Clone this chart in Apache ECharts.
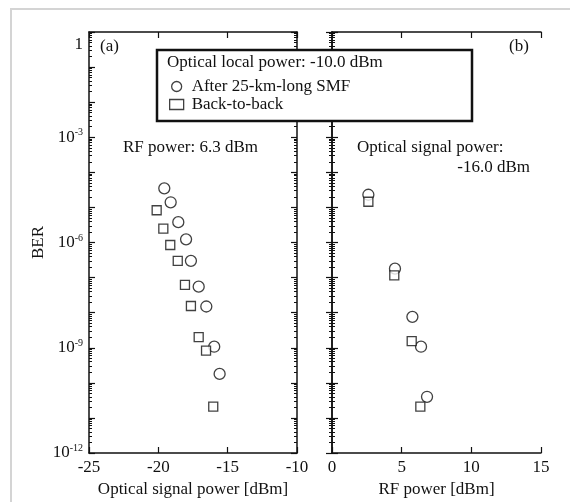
<!DOCTYPE html>
<html>
<head>
<meta charset="utf-8">
<script src="https://cdn.jsdelivr.net/npm/echarts@6/dist/echarts.min.js"></script>
<style>
  html, body { margin: 0; padding: 0; background: #fff; }
  #frame { position: absolute; left: 10px; top: 8px; width: 560px; height: 494px;
           border-left: 2px solid #d4d4d4; border-top: 2px solid #d4d4d4; }
  #chart { position: absolute; left: 0; top: 0; width: 570px; height: 502px; }
</style>
</head>
<body>
<div id="frame"></div>
<div id="chart"></div>
<script>
// (a) BER vs optical signal power, RF power 6.3 dBm
const smfPowerA = [-19.57, -19.11, -18.56, -18.0, -17.65, -17.09, -16.54, -15.97, -15.58];
const smfBerA   = [3.5e-5, 1.4e-5, 3.8e-6, 1.23e-6, 3.0e-7, 5.5e-8, 1.5e-8, 1.07e-9, 1.8e-10];
const b2bPowerA = [-20.12, -19.64, -19.14, -18.6, -18.08, -17.65, -17.09, -16.56, -16.04];
const b2bBerA   = [8.3e-6, 2.5e-6, 8.5e-7, 3.0e-7, 6.2e-8, 1.55e-8, 2.0e-9, 8.3e-10, 2.1e-11];
// (b) BER vs RF power, optical signal power -16.0 dBm
const smfPowerB = [2.61, 4.52, 5.77, 6.39, 6.82];
const smfBerB   = [2.3e-5, 1.8e-7, 7.6e-9, 1.07e-9, 4.0e-11];
const b2bPowerB = [2.61, 4.47, 5.72, 6.34];
const b2bBerB   = [1.45e-5, 1.15e-7, 1.55e-9, 2.1e-11];

const xTicksA = [-25, -20, -15, -10];
const xTicksB = [0, 5, 10, 15];
const berLabelExp = [0, -3, -6, -9, -12];

const seriesNames = ['After 25-km-long SMF', 'Back-to-back'];

const FONT = 'Liberation Serif';
const FS = 17;
const TXT = FS + 'px "Liberation Serif"';
const chart = echarts.init(document.getElementById('chart'));

const pairs = (xs, ys) => xs.map((x, i) => [x, ys[i]]);

function yLabel(v) {
  const e = Math.round(Math.log10(v));
  if (berLabelExp.indexOf(e) < 0) return '';
  if (e === 0) return '{one|1}';
  return '{n|10}{s|' + e + '}';
}

const yRich = {
  n: { fontFamily: FONT, fontSize: FS, color: '#111' },
  one: { fontFamily: FONT, fontSize: FS, color: '#111', padding: [26, 0, 0, 0] },
  s: { fontFamily: FONT, fontSize: 10, color: '#111', verticalAlign: 'top', padding: [0, 0, 9, 0] }
};

function yAxis(gridIndex, position, labels) {
  return {
    type: 'log', logBase: 10, gridIndex, position,
    min: 1e-12, max: 1, interval: 1,
    name: labels && position === 'left' ? 'BER' : '',
    nameLocation: 'middle', nameGap: 42,
    nameTextStyle: { fontFamily: FONT, fontSize: FS, color: '#111' },
    axisLine: { show: true, lineStyle: { color: '#111', width: 1.5 } },
    axisTick: { show: true, inside: true, length: 6, lineStyle: { color: '#111', width: 1.2 } },
    minorTick: { show: true, splitNumber: 9, length: 3, lineStyle: { color: '#111', width: 1 } },
    axisLabel: { show: labels, formatter: yLabel, rich: yRich, margin: 6 },
    splitLine: { show: false }
  };
}

function xAxis(gridIndex, position, min, max, name, labels) {
  return {
    type: 'value', gridIndex, position, min, max, interval: 5,
    name: labels ? name : '',
    nameLocation: 'middle', nameGap: 27,
    nameTextStyle: { fontFamily: FONT, fontSize: FS, color: '#111' },
    axisLine: { show: true, onZero: false, lineStyle: { color: '#111', width: 1.5 } },
    axisTick: { show: true, inside: true, length: 6, lineStyle: { color: '#111', width: 1.2 } },
    axisLabel: { show: labels, fontFamily: FONT, fontSize: FS, color: '#111', margin: 6 },
    splitLine: { show: false }
  };
}

const circleStyle = { color: '#fff', borderColor: '#111', borderWidth: 1.3 };
const squareStyle = { color: '#fff', borderColor: '#111', borderWidth: 1.3 };

chart.setOption({
  animation: false,
  backgroundColor: 'transparent',
  grid: [
    { left: 89, top: 32, width: 208, height: 421, outerBoundsMode: 'none', containLabel: false },
    { left: 332, top: 32, width: 209, height: 421, outerBoundsMode: 'none', containLabel: false }
  ],
  xAxis: [
    xAxis(0, 'bottom', xTicksA[0], xTicksA[xTicksA.length - 1], 'Optical signal power [dBm]', true),
    xAxis(0, 'top', xTicksA[0], xTicksA[xTicksA.length - 1], '', false),
    xAxis(1, 'bottom', xTicksB[0], xTicksB[xTicksB.length - 1], 'RF power [dBm]', true),
    xAxis(1, 'top', xTicksB[0], xTicksB[xTicksB.length - 1], '', false)
  ],
  yAxis: [
    yAxis(0, 'left', true),
    yAxis(0, 'right', false),
    yAxis(1, 'left', false),
    yAxis(1, 'right', false)
  ],
  legend: {
    orient: 'vertical', left: 164, top: 73, itemGap: 1, z: 20,
    itemWidth: 14, itemHeight: 10,
    data: [
      { name: seriesNames[0], icon: 'circle', itemStyle: circleStyle },
      { name: seriesNames[1], icon: 'rect', itemStyle: squareStyle }
    ],
    textStyle: { fontFamily: FONT, fontSize: FS, color: '#111', padding: [0, 0, 0, 3] }
  },
  graphic: [
    { type: 'rect', shape: { x: 157, y: 50, width: 315, height: 71 }, z: 1,
      style: { fill: '#fff', stroke: '#111', lineWidth: 2.5 } },
    { type: 'text', left: 167, top: 54, z: 2,
      style: { text: 'Optical local power: -10.0 dBm', font: TXT, fill: '#111' } },
    { type: 'text', left: 100, top: 38,
      style: { text: '(a)', font: TXT, fill: '#111' } },
    { type: 'text', left: 509, top: 38,
      style: { text: '(b)', font: TXT, fill: '#111' } },
    { type: 'text', left: 123, top: 139,
      style: { text: 'RF power: 6.3 dBm', font: TXT, fill: '#111' } },
    { type: 'text', left: 357, top: 139,
      style: { text: 'Optical signal power:', font: TXT, fill: '#111' } },
    { type: 'text', right: 40, top: 159,
      style: { text: '-16.0 dBm', font: TXT, fill: '#111' } }
  ],
  series: [
    { name: seriesNames[0], type: 'scatter', xAxisIndex: 0, yAxisIndex: 0,
      symbol: 'circle', symbolSize: 11, itemStyle: circleStyle, data: pairs(smfPowerA, smfBerA) },
    { name: seriesNames[1], type: 'scatter', xAxisIndex: 0, yAxisIndex: 0,
      symbol: 'rect', symbolSize: 9, itemStyle: squareStyle, data: pairs(b2bPowerA, b2bBerA) },
    { name: seriesNames[0], type: 'scatter', xAxisIndex: 2, yAxisIndex: 2,
      symbol: 'circle', symbolSize: 11, itemStyle: circleStyle, data: pairs(smfPowerB, smfBerB) },
    { name: seriesNames[1], type: 'scatter', xAxisIndex: 2, yAxisIndex: 2,
      symbol: 'rect', symbolSize: 9, itemStyle: squareStyle, data: pairs(b2bPowerB, b2bBerB) }
  ]
});
</script>
</body>
</html>
